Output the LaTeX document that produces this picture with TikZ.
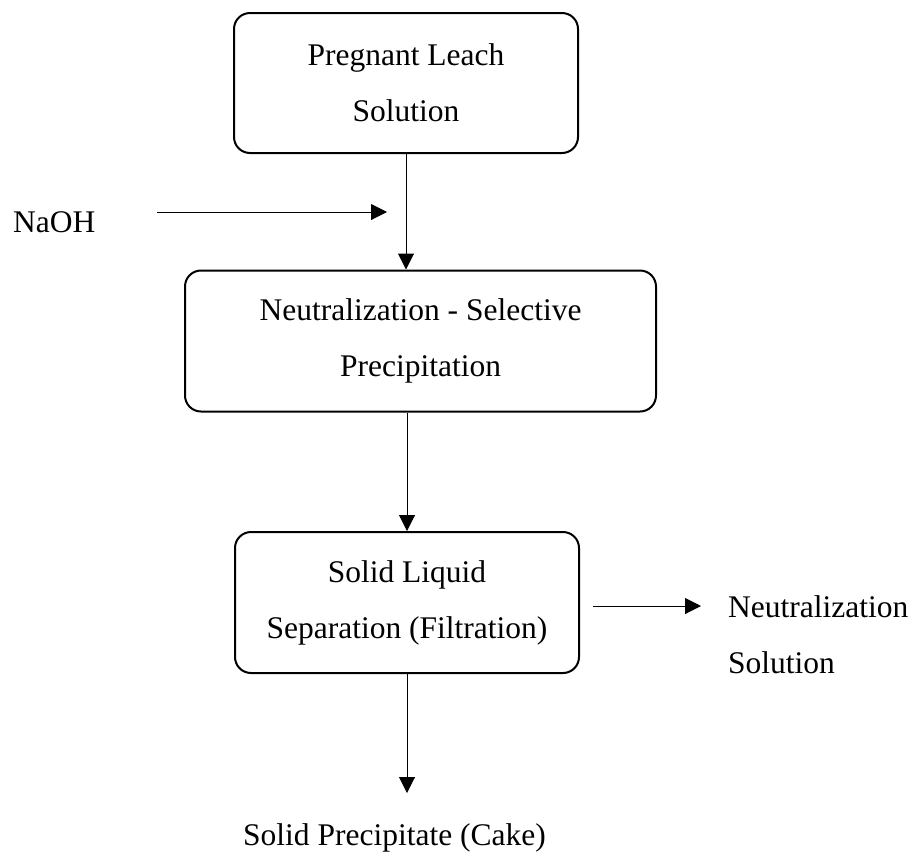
\documentclass[tikz,border=0pt]{standalone}
\usepackage{fontspec}
\setmainfont{Liberation Serif}
\usetikzlibrary{calc, arrows.meta}

\begin{document}
\begin{tikzpicture}[
    x=1pt, y=-1pt,
    stage/.style={draw, line width=2pt, rounded corners=16pt, align=center,
                  inner sep=0pt, font=\fontsize{31.5}{56}\selectfont},
    label/.style={inner sep=0pt, font=\fontsize{31.5}{56}\selectfont},
    flow/.style={line width=1pt, -{Triangle[length=16pt, width=16pt]}}
]

% 1. Canvas (same proportions as the sheet)
\useasboundingbox (0,0) rectangle (917,855);

% 2. Process stages
\node[stage, minimum width=344pt, minimum height=140pt] (PLS) at (406,83)
    {Pregnant Leach\\Solution};
\node[stage, minimum width=471pt, minimum height=141pt] (Neut) at (420.5,341)
    {Neutralization - Selective\\Precipitation};
\node[stage, minimum width=344pt, minimum height=141pt] (SLS) at (407,602.5)
    {Solid Liquid\\Separation (Filtration)};

% 3. Inputs and outputs
\node[label, anchor=base west] (NaOH) at (13,232) {NaOH};
\node[label, anchor=north west, align=left] (NeutSol) at (728,595.5)
    {Neutralization\\Solution};
\node[label, anchor=base west] (Cake) at (243,845) {Solid Precipitate (Cake)};

% 4. Free arrow ends
\coordinate (NaOHtail) at (157,212);
\coordinate (NaOHtip) at (387,212);
\coordinate (SolTail) at (593,606);
\coordinate (SolTip) at (701,606);
\coordinate (CakeTip) at (407,793);

% 5. Main flow
\draw[flow] (PLS.south) -- (PLS.south |- Neut.north);
\draw[flow] (SLS.north |- Neut.south) -- (SLS.north);
\draw[flow] (SLS.south) -- (CakeTip);

% 6. Side streams
\draw[flow] (NaOHtail) -- (NaOHtip);
\draw[flow] (SolTail) -- (SolTip);

\end{tikzpicture}
\end{document}
